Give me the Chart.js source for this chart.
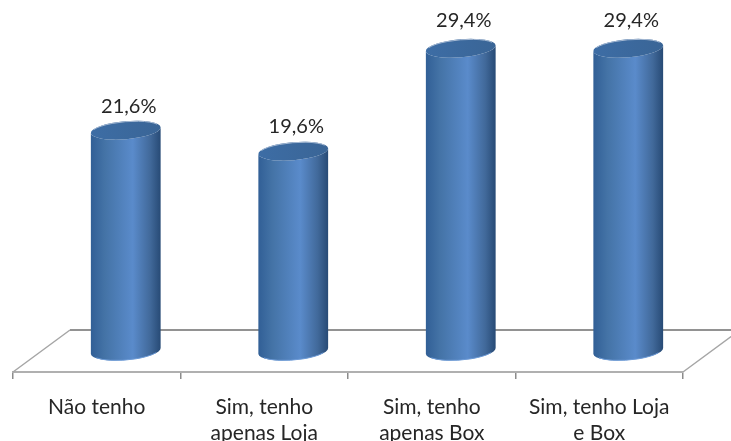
<!DOCTYPE html>
<html>
<head>
<meta charset="utf-8">
<style>
html, body { margin: 0; padding: 0; background: #fff; overflow: hidden; }
#box { width: 731px; height: 441px; overflow: hidden; }
</style>
<script src="https://cdn.jsdelivr.net/npm/chart.js@4"></script>
</head>
<body>
<div id="box"><canvas id="grafica" width="731" height="441"></canvas></div>
<script>
const categorias = [['Não tenho'], ['Sim, tenho', 'apenas Loja'], ['Sim, tenho', 'apenas Box'], ['Sim, tenho Loja', 'e Box']];
const valores = [21.6, 19.6, 29.4, 29.4];
const etiquetas = ['21,6%', '19,6%', '29,4%', '29,4%'];

// how far the back of the 3D floor sits from the front axis
const fundoX = 57;
const fundoY = 42;
const desvioBarra = 29;
// gap between cylinder top and its label
const subida = [17, 18, 21, 21];

const cilindros = {
    id: 'cilindros',
    beforeDatasetsDraw(chart) {
        const { ctx, chartArea } = chart;
        const frente = chartArea.bottom;

        // floor
        ctx.save();
        ctx.lineWidth = 1.5;
        ctx.strokeStyle = '#a6a6a6';
        ctx.beginPath();
        ctx.moveTo(chartArea.left, frente);
        ctx.lineTo(chartArea.left + fundoX, frente - fundoY);
        ctx.moveTo(chartArea.right, frente);
        ctx.lineTo(chartArea.right + fundoX, frente - fundoY);
        ctx.stroke();
        ctx.strokeStyle = '#929292';
        ctx.lineWidth = 2;
        ctx.beginPath();
        ctx.moveTo(chartArea.left + fundoX, frente - fundoY);
        ctx.lineTo(chartArea.right + fundoX, frente - fundoY);
        ctx.stroke();

        // cylinders stand in the middle of the floor
        chart.getDatasetMeta(0).data.forEach((barra, i) => {
            const cx = barra.x + desvioBarra;
            const rx = barra.width / 2;
            const ry = 9;
            const tilt = -0.085;
            const topo = barra.y;
            const base = frente - fundoY / 2;

            const grad = ctx.createLinearGradient(cx - rx, 0, cx + rx, 0);
            grad.addColorStop(0, '#315f96');
            grad.addColorStop(0.2, '#4473a6');
            grad.addColorStop(0.6, '#5a8bcb');
            grad.addColorStop(0.85, '#41699a');
            grad.addColorStop(1, '#274a75');

            ctx.fillStyle = grad;
            ctx.beginPath();
            ctx.ellipse(cx, topo, rx, ry, tilt, Math.PI, 0, true);
            ctx.ellipse(cx, base, rx, ry, tilt, 0, Math.PI);
            ctx.closePath();
            ctx.fill();

            // light rim under the base
            ctx.strokeStyle = '#6c9ad6';
            ctx.lineWidth = 1;
            ctx.beginPath();
            ctx.ellipse(cx, base, rx - 1, ry, tilt, 0.5, Math.PI - 0.5);
            ctx.stroke();

            const tampa = ctx.createLinearGradient(cx - rx, 0, cx + rx, 0);
            tampa.addColorStop(0, '#3d6da5');
            tampa.addColorStop(1, '#3a6596');
            ctx.fillStyle = tampa;
            ctx.beginPath();
            ctx.ellipse(cx, topo, rx, ry, tilt, 0, Math.PI * 2);
            ctx.fill();
            ctx.strokeStyle = '#a5b9d3';
            ctx.lineWidth = 1;
            ctx.beginPath();
            ctx.ellipse(cx, topo, rx - 0.5, ry - 0.5, tilt, Math.PI + 0.4, -0.4);
            ctx.stroke();

            ctx.fillStyle = '#262626';
            ctx.font = '20px Lato, sans-serif';
            ctx.textAlign = 'center';
            ctx.textBaseline = 'alphabetic';
            ctx.fillText(etiquetas[i], cx + 3, topo - subida[i]);
        });
        ctx.restore();
    }
};

const grafica = new Chart(document.getElementById('grafica'), {
    type: 'bar',
    data: {
        labels: categorias,
        datasets: [{
            data: valores,
            backgroundColor: 'rgba(0,0,0,0)',
            borderWidth: 0,
            categoryPercentage: 1,
            barPercentage: 0.418
        }]
    },
    plugins: [cilindros],
    options: {
        responsive: false,
        animation: false,
        layout: { padding: { left: 13, right: 48, top: 0, bottom: 0 } },
        plugins: { legend: { display: false }, tooltip: { enabled: false } },
        scales: {
            y: { display: false, min: -1.43, max: 34 },
            x: {
                afterFit(escala) { escala.height = 69; },
                border: { color: '#b0b0b0', width: 2 },
                grid: { drawOnChartArea: false, color: '#8c8c8c', tickLength: 7, lineWidth: 1.5 },
                ticks: {
                    color: '#262626',
                    padding: 15,
                    maxRotation: 0,
                    autoSkip: false,
                    font: { family: 'Lato, sans-serif', size: 21, lineHeight: 1.24 }
                }
            }
        }
    }
});
</script>
</body>
</html>
